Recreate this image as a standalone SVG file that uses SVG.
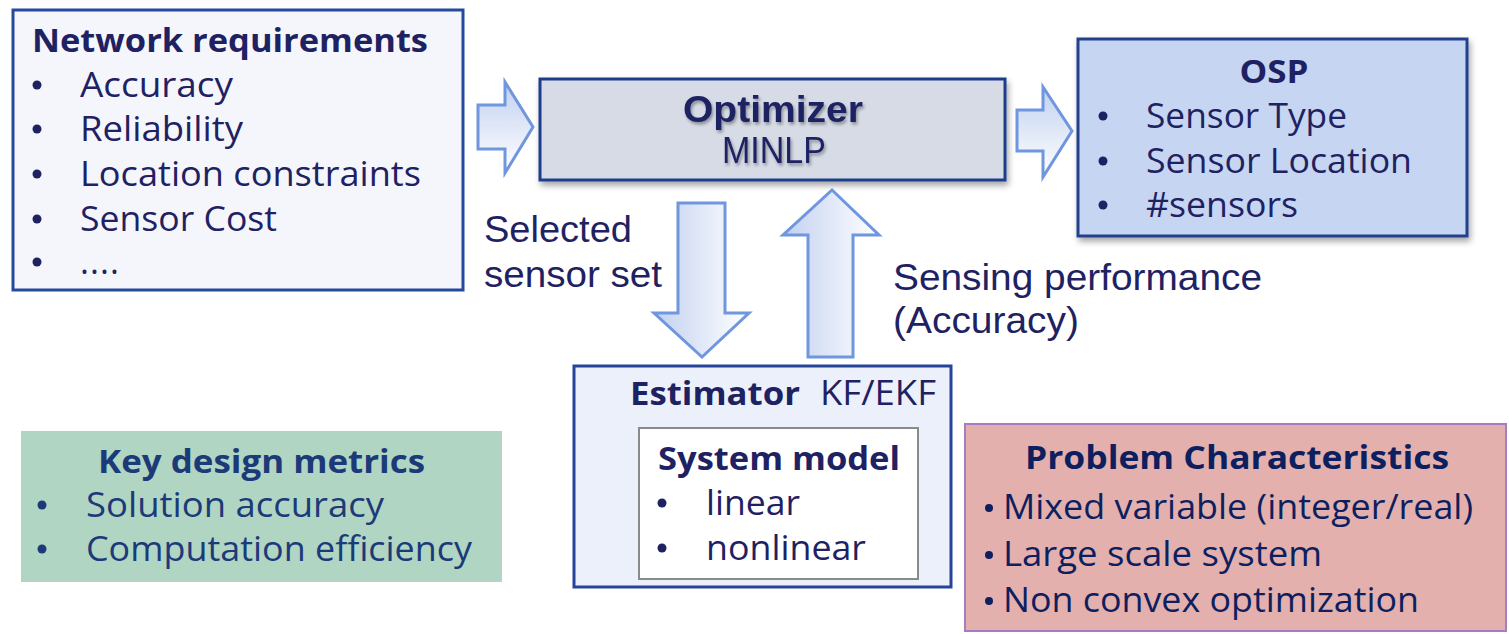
<svg xmlns="http://www.w3.org/2000/svg" width="1509" height="634" viewBox="0 0 1509 634">
  <defs>
    <linearGradient id="arrowFillH" x1="0" y1="0" x2="0" y2="1">
      <stop offset="0" stop-color="#c2d1f0"/>
      <stop offset="1" stop-color="#ffffff"/>
    </linearGradient>
    <linearGradient id="arrowFillV" x1="0" y1="0" x2="1" y2="0">
      <stop offset="0" stop-color="#c2d1f0"/>
      <stop offset="1" stop-color="#ffffff"/>
    </linearGradient>
    <filter id="boxShadow" x="-5%" y="-10%" width="112%" height="125%">
      <feDropShadow dx="2" dy="4" stdDeviation="3" flood-color="#000" flood-opacity="0.35"/>
    </filter>
    <filter id="textShadow" x="-5%" y="-20%" width="115%" height="150%">
      <feDropShadow dx="1.5" dy="2.5" stdDeviation="1.5" flood-color="#000" flood-opacity="0.35"/>
    </filter>
  </defs>
  <style>
    .txt { font-family: "Open Sans", "Noto Sans", sans-serif; font-size: 34px; fill: #1f2262; }
    .head { font-family: "Open Sans", "Noto Sans", sans-serif; font-size: 33px; font-weight: bold; fill: #1f2262; }
    .arial { font-family: "Liberation Sans", Arial, sans-serif; font-size: 36px; fill: #1f2262; }
    .arrow { stroke: #6f96de; stroke-width: 3; stroke-linejoin: miter; }
    .dot { fill: #1f2262; }
    .green { fill: #1c3a78; }
    .navy2 { fill: #0e1f5f; }
  </style>

  <rect width="1509" height="634" fill="#ffffff"/>

  <!-- Network requirements -->
  <g id="network-requirements">
    <rect x="13" y="10" width="450" height="280" fill="#f5f6fc" stroke="#254a9c" stroke-width="3"/>
    <text class="head" x="32" y="52" textLength="396" lengthAdjust="spacingAndGlyphs">Network requirements</text>
    <circle class="dot" cx="37" cy="85" r="4.5"/>
    <text class="txt" x="80" y="97" textLength="153" lengthAdjust="spacingAndGlyphs">Accuracy</text>
    <circle class="dot" cx="37" cy="129" r="4.5"/>
    <text class="txt" x="80" y="141" textLength="163" lengthAdjust="spacingAndGlyphs">Reliability</text>
    <circle class="dot" cx="37" cy="174" r="4.5"/>
    <text class="txt" x="80" y="186" textLength="341" lengthAdjust="spacingAndGlyphs">Location constraints</text>
    <circle class="dot" cx="37" cy="219" r="4.5"/>
    <text class="txt" x="80" y="231" textLength="197" lengthAdjust="spacingAndGlyphs">Sensor Cost</text>
    <circle class="dot" cx="37" cy="262" r="4.5"/>
    <text class="txt" x="80" y="274" textLength="39" lengthAdjust="spacing">....</text>
  </g>

  <!-- Optimizer -->
  <g id="optimizer">
    <rect x="540" y="79" width="465" height="101" fill="#d6dbe6" stroke="#1f3d8c" stroke-width="3" filter="url(#boxShadow)"/>
    <g filter="url(#textShadow)">
      <text class="arial" x="773" y="122" text-anchor="middle" font-size="37" font-weight="bold" textLength="180" lengthAdjust="spacingAndGlyphs">Optimizer</text>
      <text class="arial" x="774" y="163" text-anchor="middle" font-size="32" textLength="104" lengthAdjust="spacingAndGlyphs">MINLP</text>
    </g>
  </g>

  <!-- OSP -->
  <g id="osp">
    <rect x="1078" y="39" width="389" height="197" fill="#c6d5f1" stroke="#24418e" stroke-width="3" filter="url(#boxShadow)"/>
    <text class="head" x="1274" y="83" text-anchor="middle" textLength="69" lengthAdjust="spacingAndGlyphs">OSP</text>
    <circle class="dot" cx="1103" cy="116" r="4.5"/>
    <text class="txt" x="1146" y="128" textLength="201" lengthAdjust="spacingAndGlyphs">Sensor Type</text>
    <circle class="dot" cx="1103" cy="161" r="4.5"/>
    <text class="txt" x="1146" y="173" textLength="266" lengthAdjust="spacingAndGlyphs">Sensor Location</text>
    <circle class="dot" cx="1103" cy="205" r="4.5"/>
    <text class="txt" x="1146" y="217" textLength="152" lengthAdjust="spacingAndGlyphs">#sensors</text>
  </g>

  <!-- Estimator -->
  <g id="estimator">
    <rect x="574" y="366" width="377" height="221" fill="#ecf0fa" stroke="#25449a" stroke-width="3"/>
    <text class="head" x="630" y="405" textLength="170" lengthAdjust="spacingAndGlyphs">Estimator</text>
    <text class="txt" x="820" y="405" textLength="116" lengthAdjust="spacingAndGlyphs">KF/EKF</text>
  </g>

  <!-- System model -->
  <g id="system-model">
    <rect x="639" y="428" width="279" height="151" fill="#ffffff" stroke="#8a8a8a" stroke-width="2"/>
    <text class="head" x="658" y="470" textLength="242" lengthAdjust="spacingAndGlyphs">System model</text>
    <circle class="dot" cx="662" cy="503" r="4.5"/>
    <text class="txt" x="706" y="515" textLength="94" lengthAdjust="spacingAndGlyphs">linear</text>
    <circle class="dot" cx="662" cy="548" r="4.5"/>
    <text class="txt" x="706" y="560" textLength="160" lengthAdjust="spacingAndGlyphs">nonlinear</text>
  </g>

  <!-- Key design metrics -->
  <g id="key-design-metrics">
    <rect x="21" y="431" width="481" height="151" fill="#b0d5c2"/>
    <text class="head green" x="98" y="473" textLength="327" lengthAdjust="spacingAndGlyphs">Key design metrics</text>
    <circle class="green" cx="42" cy="505" r="4.5"/>
    <text class="txt green" x="86" y="517" textLength="298" lengthAdjust="spacingAndGlyphs">Solution accuracy</text>
    <circle class="green" cx="42" cy="549" r="4.5"/>
    <text class="txt green" x="86" y="561" textLength="386" lengthAdjust="spacingAndGlyphs">Computation efficiency</text>
  </g>

  <!-- Problem Characteristics -->
  <g id="problem-characteristics">
    <rect x="965" y="424" width="541" height="207" fill="#e3b0ad" stroke="#a77cc0" stroke-width="2"/>
    <text class="head navy2" x="1237" y="469" text-anchor="middle" textLength="424" lengthAdjust="spacingAndGlyphs">Problem Characteristics</text>
    <circle class="navy2" cx="989" cy="508" r="4"/>
    <text class="txt navy2" x="1003" y="519" textLength="470" lengthAdjust="spacingAndGlyphs">Mixed variable (integer/real)</text>
    <circle class="navy2" cx="989" cy="555" r="4"/>
    <text class="txt navy2" x="1003" y="566" textLength="319" lengthAdjust="spacingAndGlyphs">Large scale system</text>
    <circle class="navy2" cx="989" cy="601" r="4"/>
    <text class="txt navy2" x="1003" y="612" textLength="416" lengthAdjust="spacingAndGlyphs">Non convex optimization</text>
  </g>

  <!-- Connectors: hollow block arrows -->
  <g id="connectors">
    <path class="arrow" fill="url(#arrowFillH)" d="M478,105 H505 V82 L533,127 L505,173 V149 H478 Z"/>
    <path class="arrow" fill="url(#arrowFillH)" d="M1017,110 H1043 V87 L1072,131 L1043,177 V151 H1017 Z"/>
    <path class="arrow" fill="url(#arrowFillV)" d="M678,203 H725 V313 H749 L702,357 L654,313 H678 Z"/>
    <path class="arrow" fill="url(#arrowFillV)" d="M808,357 V235 H783 L832,190 L879,235 H853 V357 Z"/>
  </g>

  <!-- Connector labels -->
  <g id="connector-labels">
    <text class="arial" x="484" y="242" textLength="148" lengthAdjust="spacingAndGlyphs">Selected</text>
    <text class="arial" x="484" y="287" textLength="178" lengthAdjust="spacingAndGlyphs">sensor set</text>
    <text class="arial" x="893" y="290" textLength="369" lengthAdjust="spacingAndGlyphs">Sensing performance</text>
    <text class="arial" x="893" y="333" textLength="186" lengthAdjust="spacingAndGlyphs">(Accuracy)</text>
  </g>
</svg>
